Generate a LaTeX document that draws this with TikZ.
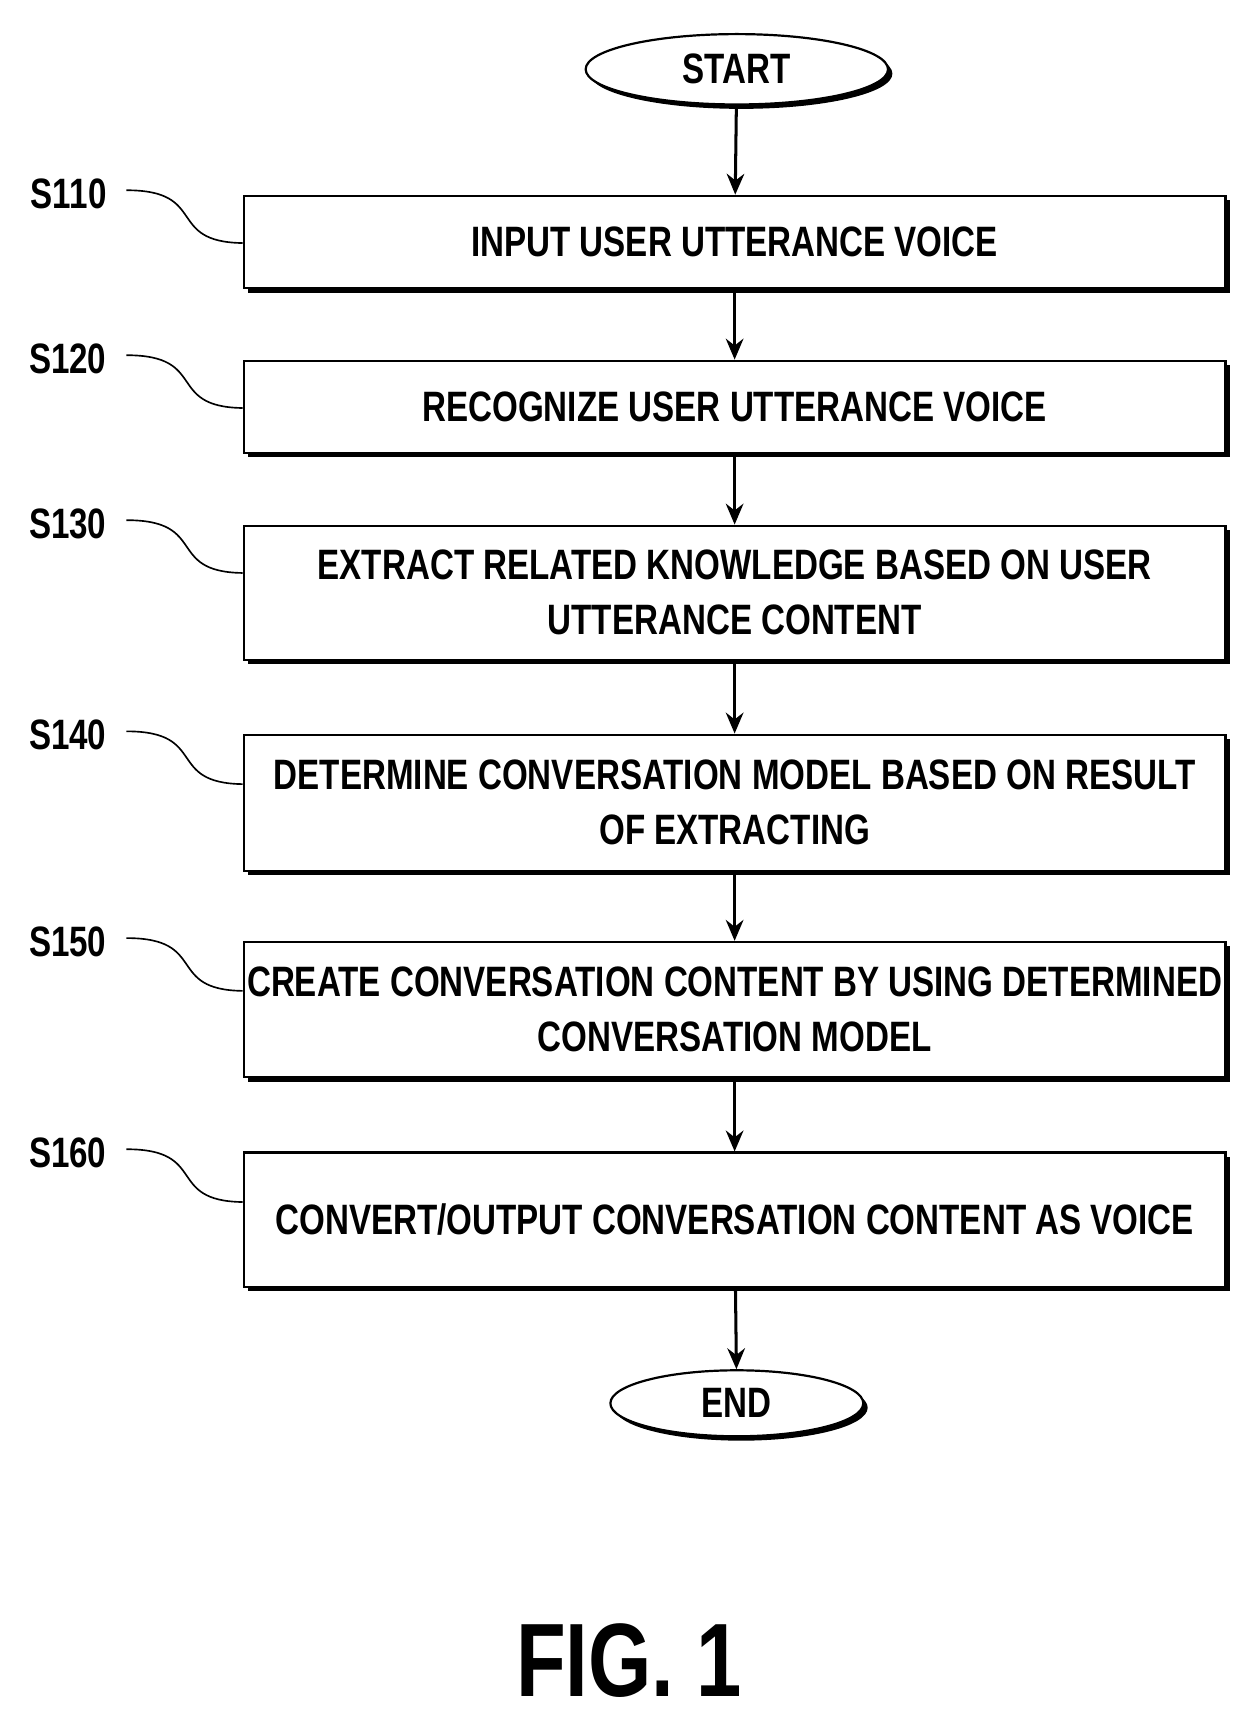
\documentclass[tikz,border=0pt]{standalone}
\usepackage{fontspec}
\setmainfont{Liberation Sans}[FakeStretch=0.78]
\usetikzlibrary{shapes.geometric,shadows,arrows.meta}
\tikzset{
  stepbox/.style={draw, line width=0.04cm, fill=white, minimum width=17.86cm,
    align=center, inner sep=0pt, font=\bfseries\fontsize{22}{28.5}\selectfont,
    drop shadow={shadow xshift=0.08cm, shadow yshift=-0.08cm, fill=black, opacity=1}},
  term/.style={ellipse, draw, line width=0.04cm, fill=white, inner sep=0pt,
    font=\bfseries\fontsize{22}{26}\selectfont,
    drop shadow={shadow xshift=0.08cm, shadow yshift=-0.08cm, fill=black, opacity=1}},
  flow/.style={-{Stealth[length=0.38cm,width=0.32cm]}, line width=0.055cm},
  tag/.style={font=\bfseries\fontsize{22}{26}\selectfont},
  lead/.style={line width=0.03cm}
}
\begin{document}
\begin{tikzpicture}[x=0.02cm,y=-0.02cm]
\useasboundingbox (0,0) rectangle (1140,1564);
% terminals
\node[term, minimum width=5.5cm, minimum height=1.28cm] (start) at (670,63) {START};
\node[term, minimum width=4.6cm, minimum height=1.2cm] (end) at (670,1276) {END};
% steps
\node[stepbox, minimum height=1.68cm] (s110) at (668,220) {INPUT USER UTTERANCE VOICE};
\node[stepbox, minimum height=1.68cm] (s120) at (668,370) {RECOGNIZE USER UTTERANCE VOICE};
\node[stepbox, minimum height=2.44cm] (s130) at (668,539) {EXTRACT RELATED KNOWLEDGE BASED ON USER\\UTTERANCE CONTENT};
\node[stepbox, minimum height=2.48cm] (s140) at (668,730) {DETERMINE CONVERSATION MODEL BASED ON RESULT\\OF EXTRACTING};
\node[stepbox, minimum height=2.46cm] (s150) at (668,918) {CREATE CONVERSATION CONTENT BY USING DETERMINED\\CONVERSATION MODEL};
\node[stepbox, minimum height=2.44cm] (s160) at (668,1109) {CONVERT/OUTPUT CONVERSATION CONTENT AS VOICE};
% arrows
\draw[flow] (start) -- (s110);
\draw[flow] (s110) -- (s120);
\draw[flow] (s120) -- (s130);
\draw[flow] (s130) -- (s140);
\draw[flow] (s140) -- (s150);
\draw[flow] (s150) -- (s160);
\draw[flow] (s160) -- (end);
% step labels
\foreach \s/\n/\y in {s110/S110/176, s120/S120/326, s130/S130/476, s140/S140/668, s150/S150/856, s160/S160/1048}{
  \node[tag, anchor=east] (l\s) at (103,\y) {\n};
  \draw[lead] (115,\y-3) .. controls (190,\y-3) and (150,\y+44) .. (\s.west|-0,\y+45);
}
\node[font=\bfseries\fontsize{54}{58}\selectfont] (fig) at (572,1510) {FIG. 1};
\end{tikzpicture}
\end{document}
